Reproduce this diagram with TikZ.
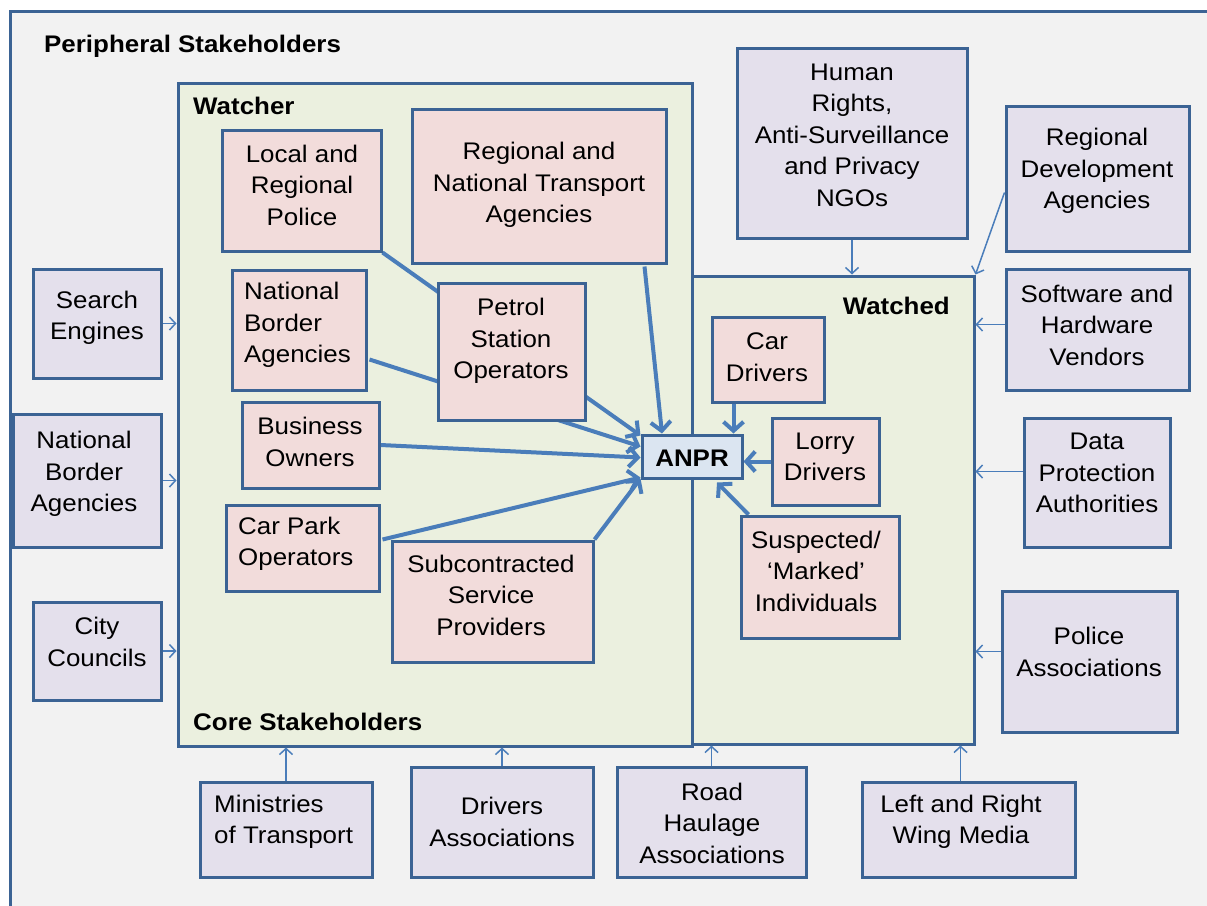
\documentclass[tikz,border=0pt]{standalone}
\usepackage{fontspec}
\setmainfont{Liberation Sans}[FakeStretch=1.08]
\usetikzlibrary{arrows.meta,calc}
\pgfdeclarelayer{back}\pgfdeclarelayer{mid}
\pgfsetlayers{back,mid,main}
\definecolor{bordc}{HTML}{3B6394}
\definecolor{arrc}{HTML}{4A7DBA}
\definecolor{lav}{HTML}{E4E0EC}
\definecolor{pinkf}{HTML}{F2DCDB}
\definecolor{coref}{HTML}{EBF0DF}
\definecolor{outerf}{HTML}{F2F2F2}
\definecolor{anprf}{HTML}{DBE5F1}
\newcommand\mkbox[6]{\node[#1, minimum width={#5-#3}, minimum height={#6-#4}] (#2) at ({(#3+#5)/2},{(#4+#6)/2}) {};}
\begin{document}
\begin{tikzpicture}[x=1pt,y=-1pt,
  boxbase/.style={draw=bordc, line width=3pt, rectangle, inner sep=0pt},
  peri/.style={boxbase, fill=lav},
  pinkbox/.style={boxbase, fill=pinkf},
  corebox/.style={boxbase, fill=coref},
  anprbox/.style={boxbase, fill=anprf},
  txt/.style={font=\fontsize{24}{31.5}\selectfont, align=center, inner sep=0pt, text=black},
  btxt/.style={txt, font=\fontsize{24}{31.5}\selectfont\bfseries},
  thk/.style={draw=arrc, line width=4pt, -{Straight Barb[length=9pt,width=20pt]}},
  thn/.style={draw=arrc, line width=1.5pt, -{Straight Barb[length=6pt,width=13pt]}}]
\useasboundingbox (0,0) rectangle (1207,905);
\begin{pgfonlayer}{back}
  \fill[white] (0,0) rectangle (1207,905);
  \begin{scope}
    \clip (0,0) rectangle (1207,905);
    \draw[fill=outerf, draw=bordc, line width=3pt] (10,11) rectangle (1240,940);
  \end{scope}
  \mkbox{corebox}{watcher}{178}{83}{692}{746}
  \mkbox{corebox}{watched}{692}{276}{974}{744}
\end{pgfonlayer}
% peripheral boxes
\mkbox{peri}{search}{33}{269}{161}{378}
\mkbox{peri}{nbao}{13}{414}{161}{547}
\mkbox{peri}{city}{33}{602}{161}{700}
\mkbox{peri}{mot}{200}{782}{372}{877}
\mkbox{peri}{drv}{411}{767}{593}{877}
\mkbox{peri}{rha}{617}{767}{806}{877}
\mkbox{peri}{media}{862}{782}{1075}{877}
\mkbox{peri}{pa}{1002}{591}{1177}{732}
\mkbox{peri}{dpa}{1024}{418}{1170}{547}
\mkbox{peri}{shv}{1006}{269}{1189}{390}
\mkbox{peri}{rda}{1006}{106}{1189}{251}
\mkbox{peri}{ngo}{737}{48}{967}{238}
% core boxes
\mkbox{pinkbox}{police}{222}{130}{381}{251}
\mkbox{pinkbox}{trans}{412}{109}{666}{263}
\mkbox{pinkbox}{nbai}{232}{270}{366}{390}
\mkbox{pinkbox}{petrol}{438}{283}{585}{420}
\mkbox{pinkbox}{bus}{242}{402}{379}{488}
\mkbox{pinkbox}{cpark}{226}{505}{379}{591}
\mkbox{pinkbox}{subc}{392}{541}{593}{662}
\mkbox{pinkbox}{cdrv}{712}{317}{824}{402}
\mkbox{pinkbox}{ldrv}{772}{418}{879}{505}
\mkbox{pinkbox}{susp}{741}{516}{899}{638}
\mkbox{anprbox}{anpr}{642}{435}{742}{478}
% texts
\node[btxt, anchor=west] (t-peri) at (44,46) {Peripheral Stakeholders};
\node[btxt, anchor=west] (t-watcher) at (193,106) {Watcher};
\node[btxt, anchor=east] (t-watched) at (950,306) {Watched};
\node[btxt, anchor=west] (t-core) at (193,722) {Core Stakeholders};
\node[txt] (t-police) at (302,185) {Local and\\Regional\\Police};
\node[txt] (t-trans) at (539,185) {Regional and\\National Transport\\Agencies};
\node[txt, align=left, anchor=west] (t-nbai) at (244,325) {National\\Border\\Agencies};
\node[txt] (t-petrol) at (511,341) {Petrol\\Station\\Operators};
\node[txt] (t-bus) at (310,442) {Business\\Owners};
\node[txt, align=left, anchor=west] (t-cpark) at (238,544) {Car Park\\Operators};
\node[txt] (t-subc) at (491,595) {Subcontracted\\Service\\Providers};
\node[txt] (t-cdrv) at (767,357) {Car\\Drivers};
\node[txt] (t-ldrv) at (825,457) {Lorry\\Drivers};
\node[txt] (t-susp) at (816,571) {Suspected/\\‘Marked’\\Individuals};
\node[btxt] (t-anpr) at (692,458) {ANPR};
\node[txt] (t-search) at (97,318) {Search\\Engines};
\node[txt] (t-nbao) at (84,474) {National\\Border\\Agencies};
\node[txt] (t-city) at (97,642) {City\\Councils};
\node[txt, align=left, anchor=west] (t-mot) at (214,822) {Ministries\\of Transport};
\node[txt] (t-drv) at (502,822) {Drivers\\Associations};
\node[txt] (t-rha) at (712,823) {Road\\Haulage\\Associations};
\node[txt] (t-media) at (961,822) {Left and Right\\Wing Media};
\node[txt] (t-pa) at (1089,652) {Police\\Associations};
\node[txt] (t-dpa) at (1097,473) {Data\\Protection\\Authorities};
\node[txt] (t-shv) at (1097,325) {Software and\\Hardware\\Vendors};
\node[txt] (t-rda) at (1097,171) {Regional\\Development\\Agencies};
\node[txt] (t-ngo) at (852,135) {Human\\Rights,\\Anti-Surveillance\\and Privacy\\NGOs};
% connectors
\begin{pgfonlayer}{mid}
  \draw[thk] (police.south east) -- ($(anpr.north west)+(0,2)$);
  \draw[thk] ($(nbai.north east)+(2,91)$) -- ($(anpr.west)+(0,-10)$);
  \draw[thk] ($(trans.south east)+(-23,2)$) -- ($(anpr.north)+(-30,0)$);
  \draw[thk] (bus.east) -- ($(anpr.west)+(0,1)$);
  \draw[thk] ($(cpark.north east)+(2,36)$) -- ($(anpr.south west)+(0,-2)$);
  \draw[thk] (subc.north east) -- ($(anpr.south west)+(0,-1)$);
  \coordinate (cda) at ($(cdrv.south west)+(23,0)$);
  \draw[thk] (cda) -- (cda |- anpr.north);
  \draw[thk] (ldrv.west) -- (ldrv.west -| anpr.east);
  \draw[thk] ($(susp.north west)+(9,0)$) -- ($(anpr.south)+(25,3)$);
  % peripheral arrows
  \draw[thn] (search.east) -- (search.east -| watcher.west);
  \draw[thn] (nbao.east) -- (nbao.east -| watcher.west);
  \draw[thn] (city.east) -- (city.east -| watcher.west);
  \draw[thn] (mot.north) -- (mot.north |- watcher.south);
  \draw[thn] (drv.north) -- (drv.north |- watcher.south);
  \draw[thn] (rha.north) -- (rha.north |- watched.south);
  \coordinate (mda) at ($(media.north)+(-8,0)$);
  \draw[thn] (mda) -- (mda |- watched.south);
  \coordinate (paa) at ($(pa.west)+(0,-10)$);
  \draw[thn] (paa) -- (paa -| watched.east);
  \coordinate (dpaa) at ($(dpa.west)+(0,-11)$);
  \draw[thn] (dpaa) -- (dpaa -| watched.east);
  \coordinate (shva) at ($(shv.west)+(0,-5)$);
  \draw[thn] (shva) -- (shva -| watched.east);
  \draw[thn] ($(rda.west)+(0,14)$) -- (watched.north east);
  \draw[thn] (ngo.south) -- (ngo.south |- watched.north);
\end{pgfonlayer}
\end{tikzpicture}
\end{document}
